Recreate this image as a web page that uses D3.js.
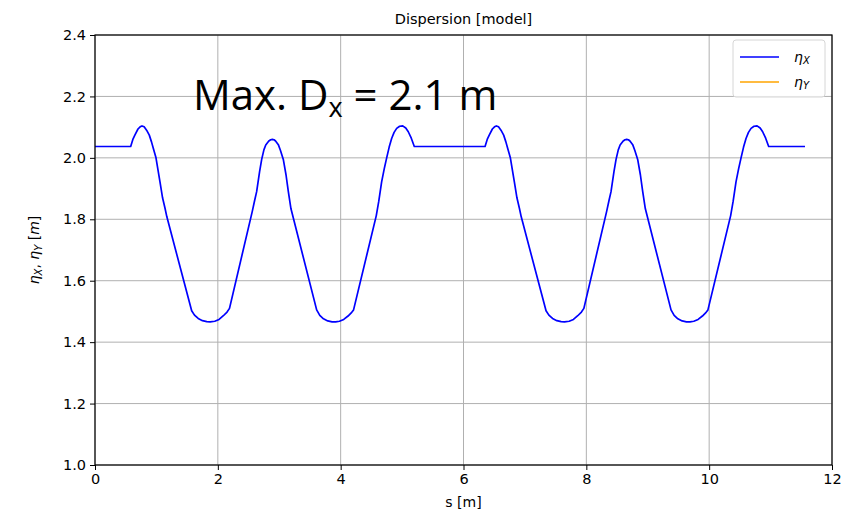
<!DOCTYPE html>
<html>
<head>
<meta charset="utf-8">
<script src="https://cdn.jsdelivr.net/npm/d3@7"></script>
<style>
  html, body { margin: 0; padding: 0; background: #ffffff; }
  svg { display: block; }
  text { font-family: "DejaVu Sans", sans-serif; fill: #000; }
</style>
</head>
<body>
<svg id="chart" width="866" height="514"></svg>
<script>
// Horizontal dispersion along the lattice, s [m] vs eta_X [m]
const sPos = [
  0.00, 0.581, 0.62, 0.651, 0.70, 0.735, 0.765, 0.80, 0.84, 0.884, 0.92, 0.949, 0.993, 1.058, 1.10, 1.14, 1.17,
  1.574, 1.62, 1.68, 1.75, 1.82, 1.875, 1.95, 2.02, 2.09, 2.15, 2.19,
  2.56, 2.60, 2.632, 2.68, 2.714, 2.75, 2.78, 2.83, 2.86, 2.887, 2.915, 2.94, 2.985, 3.02, 3.066, 3.11, 3.148, 3.19,
  3.609, 3.66, 3.72, 3.79, 3.86, 3.918, 3.98, 4.05, 4.12, 4.18, 4.21,
  4.58, 4.62, 4.667, 4.71, 4.749, 4.79, 4.83, 4.87, 4.912, 4.96, 5.010, 5.06, 5.101, 5.15, 5.199,
  6.351, 6.39, 6.421, 6.47, 6.505, 6.535, 6.57, 6.61, 6.654, 6.69, 6.719, 6.763, 6.828, 6.87, 6.91, 6.94,
  7.344, 7.39, 7.45, 7.52, 7.59, 7.645, 7.72, 7.79, 7.86, 7.92, 7.96,
  8.33, 8.37, 8.402, 8.45, 8.484, 8.52, 8.55, 8.60, 8.63, 8.657, 8.685, 8.71, 8.755, 8.79, 8.836, 8.88, 8.918, 8.96,
  9.379, 9.43, 9.49, 9.56, 9.63, 9.688, 9.75, 9.82, 9.89, 9.95, 9.98,
  10.35, 10.39, 10.437, 10.48, 10.519, 10.56, 10.60, 10.64, 10.682, 10.73, 10.78, 10.83, 10.871, 10.92, 10.969,
  11.56
];
const etaX = [
  2.037, 2.037, 2.062, 2.075, 2.094, 2.101, 2.104, 2.101, 2.090, 2.074, 2.052, 2.031, 2.000, 1.922, 1.870, 1.836, 1.808,
  1.502, 1.488, 1.477, 1.470, 1.467, 1.466, 1.468, 1.474, 1.486, 1.498, 1.510,
  1.825, 1.862, 1.890, 1.955, 1.995, 2.026, 2.042, 2.055, 2.059, 2.060, 2.059, 2.055, 2.043, 2.024, 1.995, 1.945, 1.890, 1.835,
  1.505, 1.487, 1.476, 1.469, 1.466, 1.466, 1.468, 1.474, 1.485, 1.497, 1.505,
  1.812, 1.858, 1.922, 1.965, 2.000, 2.035, 2.063, 2.083, 2.096, 2.103, 2.104, 2.097, 2.085, 2.064, 2.037,
  2.037, 2.062, 2.075, 2.094, 2.101, 2.104, 2.101, 2.090, 2.074, 2.052, 2.031, 2.000, 1.922, 1.870, 1.836, 1.808,
  1.502, 1.488, 1.477, 1.470, 1.467, 1.466, 1.468, 1.474, 1.486, 1.498, 1.510,
  1.825, 1.862, 1.890, 1.955, 1.995, 2.026, 2.042, 2.055, 2.059, 2.060, 2.059, 2.055, 2.043, 2.024, 1.995, 1.945, 1.890, 1.835,
  1.505, 1.487, 1.476, 1.469, 1.466, 1.466, 1.468, 1.474, 1.485, 1.497, 1.505,
  1.812, 1.858, 1.922, 1.965, 2.000, 2.035, 2.063, 2.083, 2.096, 2.103, 2.104, 2.097, 2.085, 2.064, 2.037,
  2.037
];
// Vertical dispersion stays at zero, below the visible range
const sPosY = [0.00, 11.56];
const etaY = [0.0, 0.0];

const xTicks = [0, 2, 4, 6, 8, 10, 12];
const yTicks = [1.0, 1.2, 1.4, 1.6, 1.8, 2.0, 2.2, 2.4];

const svg = d3.select("#chart");
const margin = { left: 95, right: 34, top: 35, bottom: 49 };
const W = 866, H = 514;
const iw = W - margin.left - margin.right;
const ih = H - margin.top - margin.bottom;

const x = d3.scaleLinear().domain([0, 12]).range([margin.left, margin.left + iw]);
const y = d3.scaleLinear().domain([1.0, 2.4]).range([margin.top + ih, margin.top]);

svg.append("defs").append("clipPath").attr("id", "plotClip")
  .append("rect").attr("x", margin.left).attr("y", margin.top).attr("width", iw).attr("height", ih);

// grid
const grid = svg.append("g").attr("stroke", "#b0b0b0").attr("stroke-width", 1);
xTicks.forEach(t => grid.append("line")
  .attr("x1", x(t)).attr("x2", x(t)).attr("y1", margin.top).attr("y2", margin.top + ih));
yTicks.forEach(t => grid.append("line")
  .attr("x1", margin.left).attr("x2", margin.left + iw).attr("y1", y(t)).attr("y2", y(t)));

// series
const line = d3.line().x(d => x(d[0])).y(d => y(d[1]));
svg.append("path")
  .datum(sPosY.map((s, i) => [s, etaY[i]]))
  .attr("clip-path", "url(#plotClip)")
  .attr("fill", "none").attr("stroke", "#ffa500").attr("stroke-width", 1.5)
  .attr("d", line);
svg.append("path")
  .datum(sPos.map((s, i) => [s, etaX[i]]))
  .attr("clip-path", "url(#plotClip)")
  .attr("fill", "none").attr("stroke", "#0000ff").attr("stroke-width", 1.7)
  .attr("stroke-linejoin", "round")
  .attr("d", line);

// axes
const xAxis = d3.axisBottom(x).tickValues(xTicks).tickFormat(d3.format("d")).tickSizeOuter(0).tickSize(5).tickPadding(4);
const yAxis = d3.axisLeft(y).tickValues(yTicks).tickFormat(d3.format(".1f")).tickSizeOuter(0).tickSize(5).tickPadding(4);
const gx = svg.append("g").attr("transform", `translate(0,${margin.top + ih})`).call(xAxis);
const gy = svg.append("g").attr("transform", `translate(${margin.left},0)`).call(yAxis);
[gx, gy].forEach(g => {
  g.select(".domain").remove();
  g.selectAll("line").attr("stroke", "#000");
  g.selectAll("text").attr("font-family", "DejaVu Sans").attr("font-size", 14.5).attr("fill", "#262626");
});

// frame
svg.append("rect").attr("x", margin.left).attr("y", margin.top).attr("width", iw).attr("height", ih)
  .attr("fill", "none").attr("stroke", "#000").attr("stroke-width", 1.2);

// title and axis labels
svg.append("text").attr("x", margin.left + iw / 2).attr("y", 24).attr("text-anchor", "middle")
  .attr("font-size", 14.5).attr("fill", "#262626").text("Dispersion [model]");
svg.append("text").attr("x", margin.left + iw / 2).attr("y", 507).attr("text-anchor", "middle")
  .attr("font-size", 14).attr("fill", "#262626").text("s [m]");

const yl = svg.append("text").attr("transform", `translate(39,${margin.top + ih / 2}) rotate(-90)`)
  .attr("text-anchor", "middle").attr("font-size", 14).attr("fill", "#262626");
yl.append("tspan").attr("font-style", "italic").text("η");
yl.append("tspan").attr("font-style", "italic").attr("font-size", 10).attr("dy", 3).text("X");
yl.append("tspan").attr("dy", -3).text(",  ");
yl.append("tspan").attr("font-style", "italic").text("η");
yl.append("tspan").attr("font-style", "italic").attr("font-size", 10).attr("dy", 3).text("Y");
yl.append("tspan").attr("dy", -3).text(" [");
yl.append("tspan").attr("font-style", "italic").text("m");
yl.append("tspan").text("]");

// legend
const lg = svg.append("g");
lg.append("rect").attr("x", 733).attr("y", 40).attr("width", 92).attr("height", 57).attr("rx", 3)
  .attr("fill", "#fff").attr("fill-opacity", 0.8).attr("stroke", "#d6d6d6");
const legendItems = [["X", "#0000ff"], ["Y", "#ffa500"]];
legendItems.forEach((it, i) => {
  const yy = 57 + i * 25;
  lg.append("line").attr("x1", 740).attr("x2", 779).attr("y1", yy).attr("y2", yy)
    .attr("stroke", it[1]).attr("stroke-width", 1.5);
  const t = lg.append("text").attr("x", 794).attr("y", yy + 5).attr("font-size", 14).attr("font-style", "italic")
    .attr("fill", "#262626");
  t.append("tspan").text("η");
  t.append("tspan").attr("font-size", 10).attr("dy", 2).text(it[0]);
});

// annotation
const ann = svg.append("text").attr("x", 193).attr("y", 110)
  .style("font-family", "'Liberation Sans Narrow', 'Open Sans', sans-serif").attr("font-size", 42);
ann.append("tspan").text("Max. D");
ann.append("tspan").attr("font-size", 27).attr("dy", 7).text("x");
ann.append("tspan").attr("dy", -7).text(" = 2.1 m");
</script>
</body>
</html>
